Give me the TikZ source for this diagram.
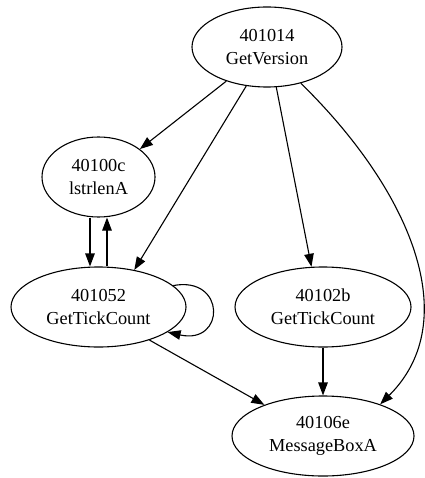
\documentclass[tikz,border=0pt]{standalone}
\usepackage{fontspec}
\setmainfont{Liberation Serif}
\usetikzlibrary{shapes.geometric,arrows.meta}
\begin{document}
\begin{tikzpicture}[x=1pt,y=-1pt,
  fn/.style={draw, ellipse, line width=1.1pt, minimum width=#1, minimum height=80pt,
    inner sep=0pt, align=center, font=\fontsize{18.3}{23}\selectfont},
  arr/.style={line width=1.1pt, -{Triangle[length=13pt,width=9.5pt]}}]
\useasboundingbox (0,0) rectangle (424,478);
\node[fn=150pt] (gv) at (267,47) {401014\\GetVersion};
\node[fn=113pt] (ls) at (98.5,177) {40100c\\lstrlenA};
\node[fn=175pt] (t1) at (98.5,307) {401052\\GetTickCount};
\node[fn=176pt] (t2) at (323,307) {40102b\\GetTickCount};
\node[fn=182pt] (mb) at (323,436) {40106e\\MessageBoxA};

\draw[arr] (gv.220) -- (ls.34);
\draw[arr] (gv.242) -- (t1.46);
\draw[arr] (gv.283) -- (t2.106);
\draw[arr] (gv.313) .. controls (410,190) and (465,320) .. (mb.29);
\draw[arr] ([xshift=-8.5pt]ls.south) -- ([xshift=-8.5pt]t1.north);
\draw[arr] ([xshift=8.5pt]t1.north) -- ([xshift=8.5pt]ls.south);
\draw[arr] (t1.16) .. controls +(53,-10) and +(58,13) .. (t1.340);
\draw[arr] (t1.327) -- (mb.152);
\draw[arr] (t2.south) -- (mb.north);
\end{tikzpicture}
\end{document}
